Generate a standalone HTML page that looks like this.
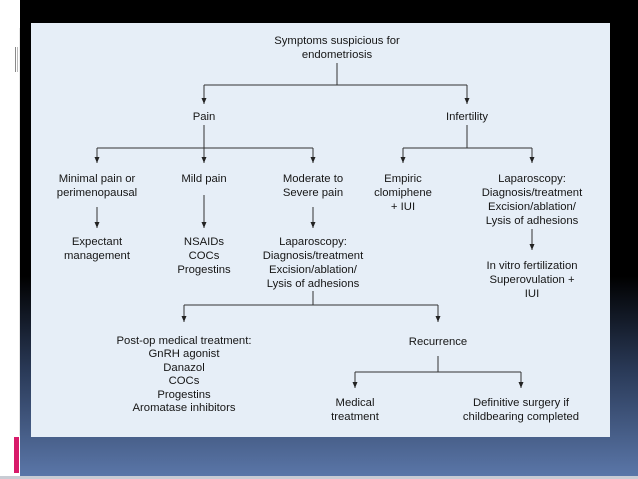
<!DOCTYPE html>
<html><head><meta charset="utf-8"><style>
html,body{margin:0;padding:0;width:638px;height:479px;overflow:hidden;background:#fff}
</style></head><body>
<svg width="638" height="479" xmlns="http://www.w3.org/2000/svg" style="position:absolute;left:0;top:0">
<defs>
<linearGradient id="bg" x1="0" y1="0" x2="0" y2="1">
<stop offset="0" stop-color="#000"/><stop offset="0.58" stop-color="#000"/>
<stop offset="0.78" stop-color="#2a3a58"/><stop offset="1" stop-color="#5a76a8"/>
</linearGradient>
<marker id="a" markerWidth="7" markerHeight="7" refX="3" refY="6" orient="0" markerUnits="userSpaceOnUse">
<path d="M0.5,0 L5.5,0 L3,6 z" fill="#222"/></marker>
</defs>
<rect x="20" y="0" width="618" height="476" fill="url(#bg)"/>
<rect x="0" y="476" width="638" height="3" fill="#c8ccd4"/>
<line x1="19.5" y1="28" x2="19.5" y2="436" stroke="#e6e6e6"/>
<line x1="15.5" y1="47" x2="15.5" y2="72" stroke="#888"/>
<line x1="17.5" y1="47" x2="17.5" y2="72" stroke="#bbb"/>
<rect x="14" y="437" width="5" height="36" fill="#d81b6a"/>
<rect x="31" y="23" width="579" height="414" fill="#e6eef7"/>
<g stroke="#333" stroke-width="1" fill="none">
<path d="M337,63 V85"/>
<path d="M204,85 H467"/>
<path d="M204,85 V104" marker-end="url(#a)"/>
<path d="M467,85 V104" marker-end="url(#a)"/>
<path d="M204,125 V163" marker-end="url(#a)"/>
<path d="M97,148 H313"/>
<path d="M97,148 V163" marker-end="url(#a)"/>
<path d="M313,148 V163" marker-end="url(#a)"/>
<path d="M97,207 V228" marker-end="url(#a)"/>
<path d="M204,195 V228" marker-end="url(#a)"/>
<path d="M313,207 V228" marker-end="url(#a)"/>
<path d="M467,125 V148"/>
<path d="M403,148 H532"/>
<path d="M403,148 V163" marker-end="url(#a)"/>
<path d="M532,148 V163" marker-end="url(#a)"/>
<path d="M532,229 V250" marker-end="url(#a)"/>
<path d="M313,291 V305"/>
<path d="M184,305 H438"/>
<path d="M184,305 V322" marker-end="url(#a)"/>
<path d="M438,305 V322" marker-end="url(#a)"/>
<path d="M438,356 V372"/>
<path d="M355,372 H521"/>
<path d="M355,372 V388" marker-end="url(#a)"/>
<path d="M521,372 V388" marker-end="url(#a)"/>
</g>
<g font-family="Liberation Sans, sans-serif" font-size="11.3" fill="#161616" text-anchor="middle">
<text x="337" y="44">Symptoms suspicious for</text>
<text x="337" y="58">endometriosis</text>
<text x="204" y="120">Pain</text>
<text x="467" y="120">Infertility</text>
<text x="97" y="182">Minimal pain or</text>
<text x="97" y="196">perimenopausal</text>
<text x="204" y="182">Mild pain</text>
<text x="313" y="182">Moderate to</text>
<text x="313" y="196">Severe pain</text>
<text x="97" y="245">Expectant</text>
<text x="97" y="259">management</text>
<text x="204" y="245">NSAIDs</text>
<text x="204" y="259">COCs</text>
<text x="204" y="273">Progestins</text>
<text x="313" y="245">Laparoscopy:</text>
<text x="313" y="259">Diagnosis/treatment</text>
<text x="313" y="273">Excision/ablation/</text>
<text x="313" y="287">Lysis of adhesions</text>
<text x="403" y="182">Empiric</text>
<text x="403" y="196">clomiphene</text>
<text x="403" y="210">+ IUI</text>
<text x="532" y="182">Laparoscopy:</text>
<text x="532" y="196">Diagnosis/treatment</text>
<text x="532" y="210">Excision/ablation/</text>
<text x="532" y="224">Lysis of adhesions</text>
<text x="532" y="269">In vitro fertilization</text>
<text x="532" y="283">Superovulation +</text>
<text x="532" y="297">IUI</text>
<text x="184" y="344">Post-op medical treatment:</text>
<text x="184" y="357">GnRH agonist</text>
<text x="184" y="371">Danazol</text>
<text x="184" y="384">COCs</text>
<text x="184" y="398">Progestins</text>
<text x="184" y="411">Aromatase inhibitors</text>
<text x="438" y="345">Recurrence</text>
<text x="355" y="406">Medical</text>
<text x="355" y="420">treatment</text>
<text x="521" y="406">Definitive surgery if</text>
<text x="521" y="420">childbearing completed</text>
</g>
</svg>
</body></html>
